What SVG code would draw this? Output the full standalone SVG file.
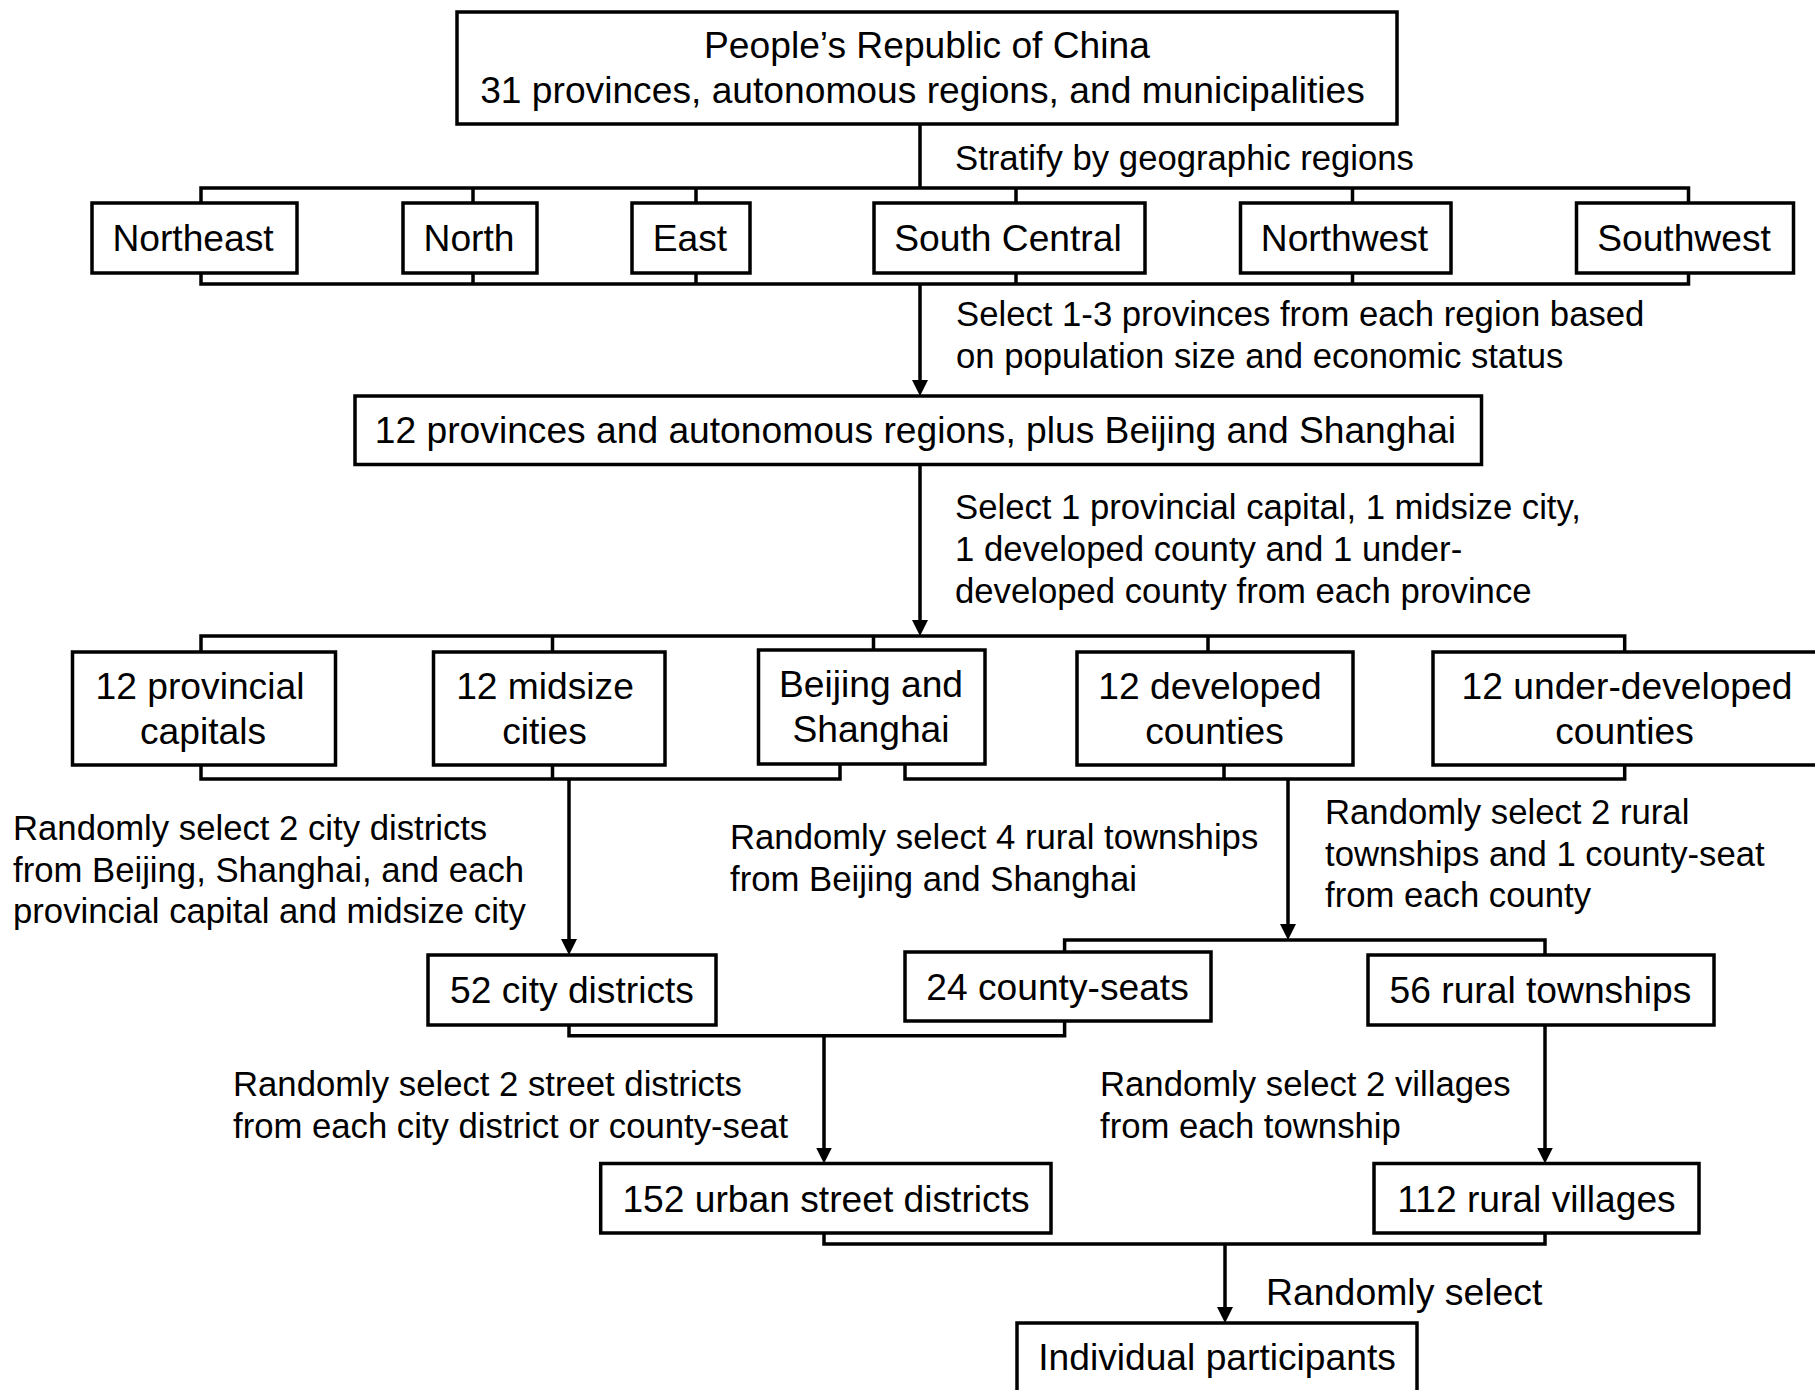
<svg xmlns="http://www.w3.org/2000/svg" width="1815" height="1390" viewBox="0 0 1815 1390">
<style>
  .box { fill: #ffffff; stroke: #000000; stroke-width: 3.5; }
  .bt { font-family: "Liberation Sans", Arial, sans-serif; font-size: 37.2px; fill: #000000; text-anchor: middle; }
  .lb { font-family: "Liberation Sans", Arial, sans-serif; font-size: 34.7px; fill: #000000; }
  .lb2 { font-family: "Liberation Sans", Arial, sans-serif; font-size: 37.4px; fill: #000000; }
  .ln { fill: none; stroke: #000000; stroke-width: 3.5; stroke-linejoin: miter; }
  .ar { marker-end: url(#arrow); }
</style>
<defs>
  <marker id="arrow" viewBox="0 0 16 16" markerWidth="16" markerHeight="16" refX="6" refY="8" orient="auto" markerUnits="userSpaceOnUse">
    <path d="M0,0 L16,8 L0,16 z" fill="#000000"/>
  </marker>
</defs>
<rect width="1815" height="1390" fill="#ffffff"/>

<g id="connectors">
  <path class="ln" d="M920,124 V188"/>
  <path class="ln" d="M201,203 V188 H1688.5 V203"/>
  <path class="ln" d="M473,188 V203 M696,188 V203 M1016,188 V203 M1352.5,188 V203"/>
  <path class="ln" d="M201,273 V284 H1688.5 V273"/>
  <path class="ln" d="M473,273 V284 M696,273 V284 M1016,273 V284 M1352.5,273 V284"/>
  <path class="ln ar" d="M920,284 V386"/>
  <path class="ln ar" d="M920,464.5 V626"/>
  <path class="ln" d="M201,652 V636 H1624.7 V652"/>
  <path class="ln" d="M552.5,636 V652 M873.5,636 V650 M1208,636 V652"/>
  <path class="ln" d="M201,765 V779 H840 V764"/>
  <path class="ln" d="M552.5,765 V779"/>
  <path class="ln" d="M905,764 V779 H1624.7 V765"/>
  <path class="ln" d="M1224,765 V779"/>
  <path class="ln ar" d="M569,779 V945"/>
  <path class="ln ar" d="M1288,779 V930"/>
  <path class="ln" d="M1064.6,952 V940 H1545 V955"/>
  <path class="ln" d="M569,1025 V1035.7 H1064.6 V1021"/>
  <path class="ln ar" d="M824,1035.7 V1153.5"/>
  <path class="ln ar" d="M1545,1025 V1153.5"/>
  <path class="ln" d="M824,1233 V1244 H1545 V1233"/>
  <path class="ln ar" d="M1225,1244 V1313"/>
</g>

<g id="labels">
  <text class="lb" x="955" y="170">Stratify by geographic regions</text>
  <text class="lb" x="956" y="326">Select 1-3 provinces from each region based</text>
  <text class="lb" x="956" y="368">on population size and economic status</text>
  <text class="lb" x="955" y="519">Select 1 provincial capital, 1 midsize city,</text>
  <text class="lb" x="955" y="561">1 developed county and 1 under-</text>
  <text class="lb" x="955" y="603">developed county from each province</text>
  <text class="lb" x="13" y="840">Randomly select 2 city districts</text>
  <text class="lb" x="13" y="881.5">from Beijing, Shanghai, and each</text>
  <text class="lb" x="13" y="923">provincial capital and midsize city</text>
  <text class="lb" x="730" y="849">Randomly select 4 rural townships</text>
  <text class="lb" x="730" y="891">from Beijing and Shanghai</text>
  <text class="lb" x="1325" y="824">Randomly select 2 rural</text>
  <text class="lb" x="1325" y="865.5">townships and 1 county-seat</text>
  <text class="lb" x="1325" y="907">from each county</text>
  <text class="lb" x="233" y="1096">Randomly select 2 street districts</text>
  <text class="lb" x="233" y="1137.5">from each city district or county-seat</text>
  <text class="lb" x="1100" y="1096">Randomly select 2 villages</text>
  <text class="lb" x="1100" y="1137.5">from each township</text>
  <text class="lb2" x="1266" y="1305">Randomly select</text>
</g>

<g id="n_prc">
  <rect class="box" x="457" y="12" width="940" height="112"/>
  <text class="bt" x="927" y="58">People’s Republic of China</text>
  <text class="bt" x="922.5" y="103">31 provinces, autonomous regions, and municipalities</text>
</g>
<g id="n_northeast">
  <rect class="box" x="92" y="203" width="205" height="70"/>
  <text class="bt" x="193" y="251">Northeast</text>
</g>
<g id="n_north">
  <rect class="box" x="403" y="203" width="134" height="70"/>
  <text class="bt" x="469" y="251">North</text>
</g>
<g id="n_east">
  <rect class="box" x="632" y="203" width="118" height="70"/>
  <text class="bt" x="690" y="251">East</text>
</g>
<g id="n_southcentral">
  <rect class="box" x="874" y="203" width="271" height="70"/>
  <text class="bt" x="1008" y="251">South Central</text>
</g>
<g id="n_northwest">
  <rect class="box" x="1240.5" y="203" width="210.5" height="70"/>
  <text class="bt" x="1344.5" y="251">Northwest</text>
</g>
<g id="n_southwest">
  <rect class="box" x="1576.5" y="203" width="217" height="70"/>
  <text class="bt" x="1684" y="251">Southwest</text>
</g>
<g id="n_12prov">
  <rect class="box" x="355" y="396" width="1126.5" height="68.5"/>
  <text class="bt" x="915.5" y="443">12 provinces and autonomous regions, plus Beijing and Shanghai</text>
</g>
<g id="n_capitals">
  <rect class="box" x="72.5" y="652" width="263" height="113"/>
  <text class="bt" x="200" y="699">12 provincial</text>
  <text class="bt" x="203" y="744">capitals</text>
</g>
<g id="n_midsize">
  <rect class="box" x="433.5" y="652" width="231.5" height="113"/>
  <text class="bt" x="545" y="699">12 midsize</text>
  <text class="bt" x="544.5" y="744">cities</text>
</g>
<g id="n_beijing">
  <rect class="box" x="758.5" y="650" width="226.5" height="114"/>
  <text class="bt" x="871" y="697">Beijing and</text>
  <text class="bt" x="871" y="742">Shanghai</text>
</g>
<g id="n_developed">
  <rect class="box" x="1077" y="652" width="276" height="113"/>
  <text class="bt" x="1210" y="699">12 developed</text>
  <text class="bt" x="1214.5" y="744">counties</text>
</g>
<g id="n_underdeveloped">
  <rect class="box" x="1433" y="652" width="384" height="113"/>
  <text class="bt" x="1627" y="699">12 under-developed</text>
  <text class="bt" x="1624.5" y="744">counties</text>
</g>
<g id="n_citydistricts">
  <rect class="box" x="428" y="955" width="288" height="70"/>
  <text class="bt" x="572" y="1003">52 city districts</text>
</g>
<g id="n_countyseats">
  <rect class="box" x="905" y="952" width="306" height="69"/>
  <text class="bt" x="1057.5" y="999.5">24 county-seats</text>
</g>
<g id="n_townships">
  <rect class="box" x="1368" y="955" width="346" height="70"/>
  <text class="bt" x="1540.5" y="1003">56 rural townships</text>
</g>
<g id="n_streets">
  <rect class="box" x="600.7" y="1163.5" width="450.3" height="69.5"/>
  <text class="bt" x="826" y="1211.5">152 urban street districts</text>
</g>
<g id="n_villages">
  <rect class="box" x="1374" y="1163.5" width="325" height="69.5"/>
  <text class="bt" x="1536.5" y="1211.5">112 rural villages</text>
</g>
<g id="n_participants">
  <rect class="box" x="1017" y="1323" width="400" height="69"/>
  <text class="bt" x="1217" y="1370">Individual participants</text>
</g>
</svg>
